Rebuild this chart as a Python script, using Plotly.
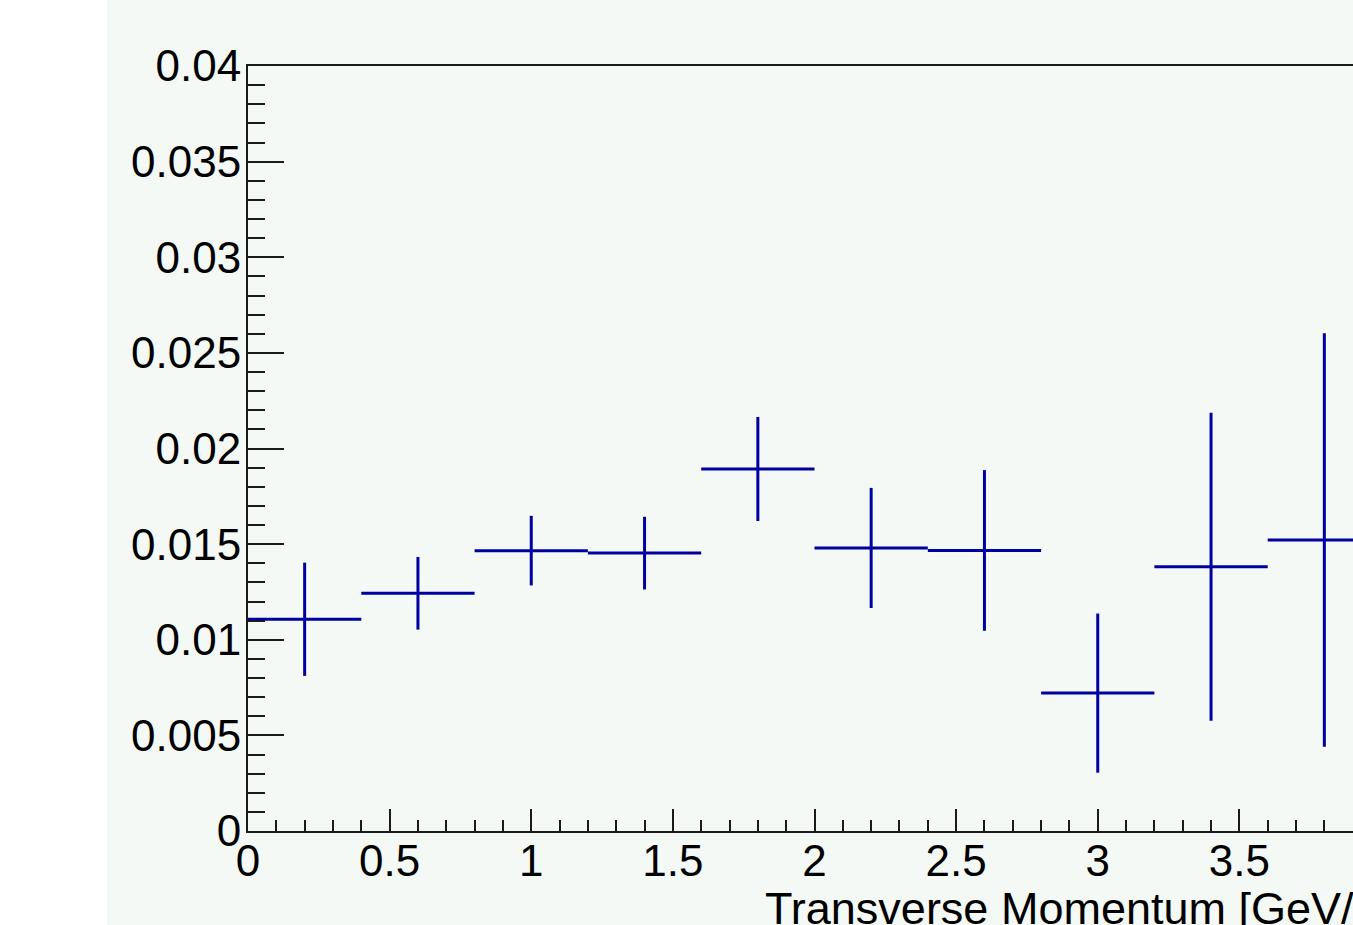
import plotly.graph_objects as go

# Data
bin_centers = [0.2, 0.6, 1.0, 1.4, 1.8, 2.2, 2.6, 3.0, 3.4, 3.8]
bin_half_width = [0.2, 0.2, 0.2, 0.2, 0.2, 0.2, 0.2, 0.2, 0.2, 0.2]
values = [0.01107, 0.01243, 0.01466, 0.01453, 0.01893, 0.0148, 0.01467, 0.00721, 0.01382, 0.01522]
errors = [0.00296, 0.0019, 0.00182, 0.0019, 0.00272, 0.00314, 0.0042, 0.00416, 0.00805, 0.01081]
x_title = "Transverse Momentum [GeV/c]"

W, H = 1353, 925
ML, MR, MT, MB = 248, 0, 66, 94
BG = "#f4f9f6"
AX = "#1a1a1a"
LINE = "#0000a0"
FONT = "Liberation Sans, Arial, Helvetica, sans-serif"

fig = go.Figure()
fig.add_trace(go.Scatter(
    x=bin_centers, y=values, mode="markers",
    marker=dict(size=0.1, color=LINE, opacity=0),
    error_x=dict(type="data", array=bin_half_width, thickness=3, width=0, color=LINE),
    error_y=dict(type="data", array=errors, thickness=3, width=0, color=LINE),
    showlegend=False, hoverinfo="skip",
))

plot_w = W - ML - MR
plot_h = H - MT - MB
fig.update_layout(
    width=W, height=H,
    margin=dict(l=ML, r=MR, t=MT, b=MB, pad=0),
    paper_bgcolor=BG, plot_bgcolor=BG,
    font=dict(family=FONT, size=44, color="black"),
    xaxis=dict(
        range=[0, plot_w / 283.25], showgrid=False, zeroline=False,
        showline=True, linecolor=AX, linewidth=2, mirror=True,
        ticks="inside", ticklen=22, tickwidth=2, tickcolor=AX,
        tick0=0, dtick=0.5,
        minor=dict(ticks="inside", ticklen=11, tickwidth=2, tickcolor=AX, dtick=0.1, showgrid=False),
        tickfont=dict(family=FONT, size=44, color="black"),
        ticklabelstandoff=-10,
    ),
    yaxis=dict(
        range=[0, 0.04], showgrid=False, zeroline=False,
        showline=True, linecolor=AX, linewidth=2, mirror=False,
        ticks="inside", ticklen=36, tickwidth=2, tickcolor=AX,
        tick0=0, dtick=0.005,
        minor=dict(ticks="inside", ticklen=17, tickwidth=2, tickcolor=AX, dtick=0.001, showgrid=False),
        tickfont=dict(family=FONT, size=44, color="black"),
        ticklabelstandoff=-4,
    ),
    shapes=[dict(
        type="rect", xref="paper", yref="paper",
        x0=-ML / plot_w - 0.01, x1=(107 - ML) / plot_w,
        y0=-MB / plot_h - 0.01, y1=1 + MT / plot_h + 0.01,
        fillcolor="white", line=dict(width=0), layer="below",
    )],
    annotations=[dict(
        text=x_title, xref="x", yref="paper",
        x=(763 - ML) / 283.25, y=(831 - 908) / plot_h,
        xanchor="left", yanchor="middle", showarrow=False,
        font=dict(family=FONT, size=45, color="black"),
    )],
)

fig.write_html("out.html")
